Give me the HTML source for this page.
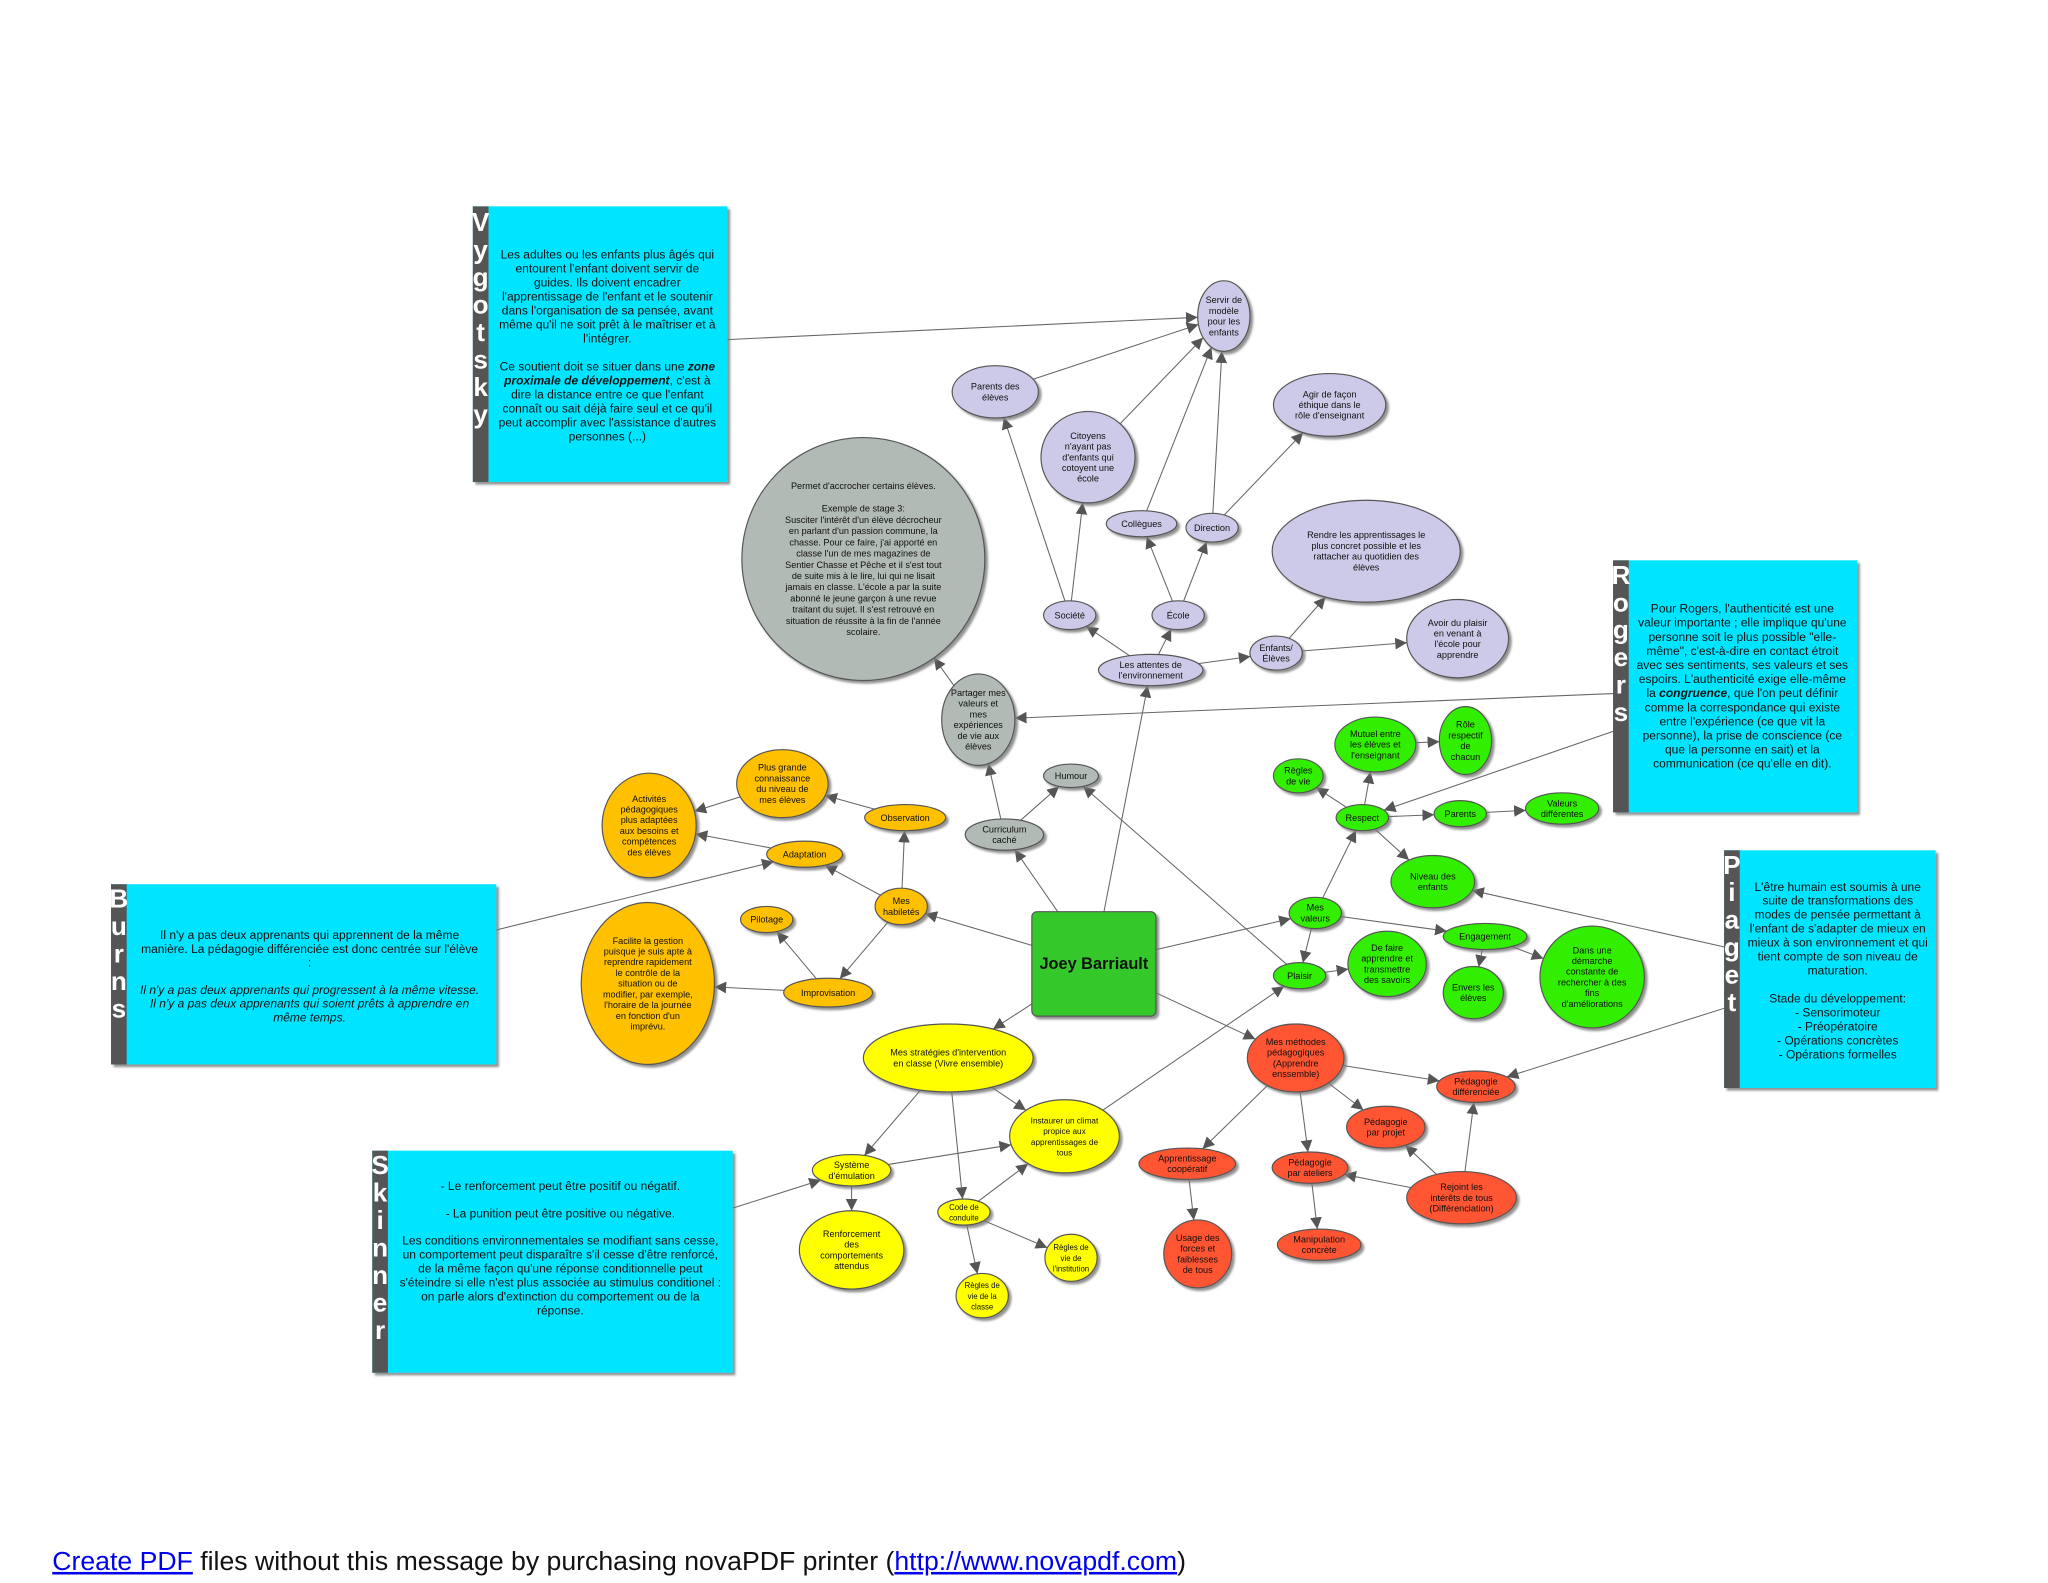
<!DOCTYPE html>
<html><head><meta charset="utf-8"><style>
html,body{margin:0;padding:0;background:#fff;}
svg{display:block;}
text{font-family:"Liberation Sans",sans-serif;fill:#111;}
.n text{font-size:7px;text-anchor:middle;}
.b text{font-size:9.2px;text-anchor:middle;}
.bar{font-size:20px;font-weight:bold;fill:#fff;text-anchor:middle;}
.e{stroke:#666;stroke-width:0.8;fill:none;}
.n ellipse{stroke:#555;stroke-width:0.9;}
</style></head><body>
<svg id="s" width="2048" height="1583" viewBox="0 0 1568 1212" xmlns="http://www.w3.org/2000/svg">
<defs>
<marker id="ar" viewBox="0 0 10 10" refX="10" refY="5" markerWidth="9" markerHeight="9" markerUnits="userSpaceOnUse" orient="auto"><path d="M0,0L10,5L0,10z" fill="#555"/></marker>
<filter id="sh" x="-20%" y="-20%" width="150%" height="150%"><feDropShadow dx="2" dy="2" stdDeviation="0.8" flood-color="#777" flood-opacity="0.8"/></filter>
</defs>
<g id="edges"></g>

<!-- Boxes -->
<g class="b" filter="url(#sh)">
<rect id="bV" x="362" y="158" width="195" height="211" fill="#00e5ff"/><rect x="362" y="158" width="12" height="211" fill="#555"/>
<rect id="bR" x="1235" y="429" width="187" height="193" fill="#00e5ff"/><rect x="1235" y="429" width="12" height="193" fill="#555"/>
<rect id="bP" x="1320" y="651" width="162" height="182" fill="#00e5ff"/><rect x="1320" y="651" width="12" height="182" fill="#555"/>
<rect id="bB" x="85" y="677" width="295" height="138" fill="#00e5ff"/><rect x="85" y="677" width="12" height="138" fill="#555"/>
<rect id="bS" x="285" y="881" width="276" height="170" fill="#00e5ff"/><rect x="285" y="881" width="12" height="170" fill="#555"/>
</g>
<g>
<text class="bar" x="368" y="177">V</text><text class="bar" x="368" y="198">y</text><text class="bar" x="368" y="219">g</text><text class="bar" x="368" y="240">o</text><text class="bar" x="368" y="261">t</text><text class="bar" x="368" y="282">s</text><text class="bar" x="368" y="303">k</text><text class="bar" x="368" y="324">y</text>
<text class="bar" x="1241" y="447">R</text><text class="bar" x="1241" y="468">o</text><text class="bar" x="1241" y="489">g</text><text class="bar" x="1241" y="510">e</text><text class="bar" x="1241" y="531">r</text><text class="bar" x="1241" y="552">s</text>
<text class="bar" x="1326" y="669">P</text><text class="bar" x="1326" y="690">i</text><text class="bar" x="1326" y="711">a</text><text class="bar" x="1326" y="732">g</text><text class="bar" x="1326" y="753">e</text><text class="bar" x="1326" y="774">t</text>
<text class="bar" x="91" y="695">B</text><text class="bar" x="91" y="716">u</text><text class="bar" x="91" y="737">r</text><text class="bar" x="91" y="758">n</text><text class="bar" x="91" y="779">s</text>
<text class="bar" x="291" y="899">S</text><text class="bar" x="291" y="920">k</text><text class="bar" x="291" y="941">i</text><text class="bar" x="291" y="962">n</text><text class="bar" x="291" y="983">n</text><text class="bar" x="291" y="1004">e</text><text class="bar" x="291" y="1025">r</text>
</g>
<g class="b">
<text x="465" y="198">Les adultes ou les enfants plus âgés qui</text>
<text x="465" y="208.7">entourent l'enfant doivent servir de</text>
<text x="465" y="219.4">guides. Ils doivent encadrer</text>
<text x="465" y="230.1">l'apprentissage de l'enfant et le soutenir</text>
<text x="465" y="240.8">dans l'organisation de sa pensée, avant</text>
<text x="465" y="251.5">même qu'il ne soit prêt à le maîtriser et à</text>
<text x="465" y="262.2">l'intégrer.</text>
<text x="465" y="283.6">Ce soutient doit se situer dans une <tspan font-weight="bold" font-style="italic">zone</tspan></text>
<text x="465" y="294.3"><tspan font-weight="bold" font-style="italic">proximale de développement</tspan>, c'est à</text>
<text x="465" y="305">dire la distance entre ce que l'enfant</text>
<text x="465" y="315.7">connaît ou sait déjà faire seul et ce qu'il</text>
<text x="465" y="326.4">peut accomplir avec l'assistance d'autres</text>
<text x="465" y="337.1">personnes (...)</text>

<text x="1334" y="469">Pour Rogers, l'authenticité est une</text>
<text x="1334" y="479.8">valeur importante ; elle implique qu'une</text>
<text x="1334" y="490.6">personne soit le plus possible "elle-</text>
<text x="1334" y="501.4">même", c'est-à-dire en contact étroit</text>
<text x="1334" y="512.2">avec ses sentiments, ses valeurs et ses</text>
<text x="1334" y="523">espoirs. L'authenticité exige elle-même</text>
<text x="1334" y="533.8">la <tspan font-weight="bold" font-style="italic">congruence</tspan>, que l'on peut définir</text>
<text x="1334" y="544.6">comme la correspondance qui existe</text>
<text x="1334" y="555.4">entre l'expérience (ce que vit la</text>
<text x="1334" y="566.2">personne), la prise de conscience (ce</text>
<text x="1334" y="577">que la personne en sait) et la</text>
<text x="1334" y="587.8">communication (ce qu'elle en dit).</text>

<text x="1407" y="682">L'être humain est soumis à une</text>
<text x="1407" y="692.7">suite de transformations des</text>
<text x="1407" y="703.4">modes de pensée permettant à</text>
<text x="1407" y="714.1">l'enfant de s'adapter de mieux en</text>
<text x="1407" y="724.8">mieux à son environnement et qui</text>
<text x="1407" y="735.5">tient compte de son niveau de</text>
<text x="1407" y="746.2">maturation.</text>
<text x="1407" y="767.6">Stade du développement:</text>
<text x="1407" y="778.3">- Sensorimoteur</text>
<text x="1407" y="789">- Préopératoire</text>
<text x="1407" y="799.7">- Opérations concrètes</text>
<text x="1407" y="810.4">- Opérations formelles</text>

<text x="237" y="719">Il n'y a pas deux apprenants qui apprennent de la même</text>
<text x="237" y="729.5">manière. La pédagogie différenciée est donc centrée sur l'élève</text>
<text x="237" y="740">:</text>
<text x="237" y="761" font-style="italic">Il n'y a pas deux apprenants qui progressent à la même vitesse.</text>
<text x="237" y="771.5" font-style="italic">Il n'y a pas deux apprenants qui soient prêts à apprendre en</text>
<text x="237" y="782" font-style="italic">même temps.</text>

<text x="429" y="911">- Le renforcement peut être positif ou négatif.</text>
<text x="429" y="932">- La punition peut être positive ou négative.</text>
<text x="429" y="953">Les conditions environnementales se modifiant sans cesse,</text>
<text x="429" y="963.7">un comportement peut disparaître s'il cesse d'être renforcé,</text>
<text x="429" y="974.4">de la même façon qu'une réponse conditionnelle peut</text>
<text x="429" y="985.1">s'éteindre si elle n'est plus associée au stimulus conditionel :</text>
<text x="429" y="995.8">on parle alors d'extinction du comportement ou de la</text>
<text x="429" y="1006.5">réponse.</text>
</g>

<!-- Nodes -->
<g id="nodes" filter="url(#sh)">
<g class="n" id="servir"><ellipse cx="937" cy="242" rx="20" ry="27" fill="#cdcae9"/><text x="937" y="242">Servir de|modèle|pour les|enfants</text></g>
<g class="n" id="parents"><ellipse cx="762" cy="300" rx="33" ry="20" fill="#cdcae9"/><text x="762" y="300">Parents des|élèves</text></g>
<g class="n" id="citoyens"><ellipse cx="833" cy="350" rx="36" ry="35" fill="#cdcae9"/><text x="833" y="350">Citoyens|n'ayant pas|d'enfants qui|cotoyent une|école</text></g>
<g class="n" id="agir"><ellipse cx="1018" cy="310" rx="43" ry="24" fill="#cdcae9"/><text x="1018" y="310">Agir de façon|éthique dans le|rôle d'enseignant</text></g>
<g class="n" id="collegues"><ellipse cx="874" cy="401" rx="27" ry="10" fill="#cdcae9"/><text x="874" y="401">Collègues</text></g>
<g class="n" id="direction"><ellipse cx="928" cy="404" rx="20" ry="11" fill="#cdcae9"/><text x="928" y="404">Direction</text></g>
<g class="n" id="rendre"><ellipse cx="1046" cy="422" rx="72" ry="39" fill="#cdcae9"/><text x="1046" y="422">Rendre les apprentissages le|plus concret possible et les|rattacher au quotidien des|élèves</text></g>
<g class="n" id="societe"><ellipse cx="819" cy="471" rx="20" ry="11" fill="#cdcae9"/><text x="819" y="471">Société</text></g>
<g class="n" id="ecole"><ellipse cx="902" cy="471" rx="20" ry="11" fill="#cdcae9"/><text x="902" y="471">École</text></g>
<g class="n" id="attentes"><ellipse cx="881" cy="513" rx="40" ry="12" fill="#cdcae9"/><text x="881" y="513">Les attentes de|l'environnement</text></g>
<g class="n" id="enfants"><ellipse cx="977" cy="500" rx="20" ry="13" fill="#cdcae9"/><text x="977" y="500">Enfants/|Élèves</text></g>
<g class="n" id="avoir"><ellipse cx="1116" cy="489" rx="39" ry="30" fill="#cdcae9"/><text x="1116" y="489">Avoir du plaisir|en venant à|l'école pour|apprendre</text></g>

<g class="n" id="big"><ellipse cx="661" cy="428" rx="93" ry="93" fill="#b2bab5"/><text x="661" y="428" data-lh="8.6">Permet d'accrocher certains élèves.| |Exemple de stage 3:|Susciter l'intérêt d'un élève décrocheur|en parlant d'un passion commune, la|chasse. Pour ce faire, j'ai apporté en|classe l'un de mes magazines de|Sentier Chasse et Pêche et il s'est tout|de suite mis à le lire, lui qui ne lisait|jamais en classe. L'école a par la suite|abonné le jeune garçon à une revue|traitant du sujet. Il s'est retrouvé en|situation de réussite à la fin de l'année|scolaire.</text></g>
<g class="n" id="partager"><ellipse cx="749" cy="551" rx="28" ry="35" fill="#b2bab5"/><text x="749" y="551">Partager mes|valeurs et|mes|expériences|de vie aux|élèves</text></g>
<g class="n" id="humour"><ellipse cx="820" cy="594" rx="21" ry="9" fill="#b2bab5"/><text x="820" y="594">Humour</text></g>
<g class="n" id="curri"><ellipse cx="769" cy="639" rx="30" ry="12" fill="#b2bab5"/><text x="769" y="639">Curriculum|caché</text></g>

<g class="n" id="plusg"><ellipse cx="599" cy="600" rx="35" ry="26" fill="#ffc000"/><text x="599" y="600">Plus grande|connaissance|du niveau de|mes élèves</text></g>
<g class="n" id="activ"><ellipse cx="497" cy="632" rx="36" ry="40" fill="#ffc000"/><text x="497" y="632">Activités|pédagogiques|plus adaptées|aux besoins et|compétences|des élèves</text></g>
<g class="n" id="obs"><ellipse cx="693" cy="626" rx="31" ry="10" fill="#ffc000"/><text x="693" y="626">Observation</text></g>
<g class="n" id="adapt"><ellipse cx="616" cy="654" rx="29" ry="10" fill="#ffc000"/><text x="616" y="654">Adaptation</text></g>
<g class="n" id="habil"><ellipse cx="690" cy="694" rx="20" ry="14" fill="#ffc000"/><text x="690" y="694">Mes|habiletés</text></g>
<g class="n" id="pilot"><ellipse cx="587" cy="704" rx="20" ry="10" fill="#ffc000"/><text x="587" y="704">Pilotage</text></g>
<g class="n" id="facil"><ellipse cx="496" cy="753" rx="51" ry="62" fill="#ffc000"/><text x="496" y="753">Facilite la gestion|puisque je suis apte à|reprendre rapidement|le contrôle de la|situation ou de|modifier, par exemple,|l'horaire de la journée|en fonction d'un|imprévu.</text></g>
<g class="n" id="impro"><ellipse cx="634" cy="760" rx="34" ry="11" fill="#ffc000"/><text x="634" y="760">Improvisation</text></g>

<g class="n" id="strat"><ellipse cx="726" cy="810" rx="65" ry="26" fill="#ffff00"/><text x="726" y="810">Mes stratégies d'intervention|en classe (Vivre ensemble)</text></g>
<g class="n" id="instaurer"><ellipse cx="815" cy="870" rx="42" ry="28" fill="#ffff00"/><text x="815" y="870" style="font-size:6.3px">Instaurer un climat|propice aux|apprentissages de|tous</text></g>
<g class="n" id="systeme"><ellipse cx="652" cy="896" rx="30" ry="12" fill="#ffff00"/><text x="652" y="896">Système|d'émulation</text></g>
<g class="n" id="code"><ellipse cx="738" cy="928" rx="20" ry="10" fill="#ffff00"/><text x="738" y="928" style="font-size:6px">Code de|conduite</text></g>
<g class="n" id="renf"><ellipse cx="652" cy="957" rx="40" ry="30" fill="#ffff00"/><text x="652" y="957">Renforcement|des|comportements|attendus</text></g>
<g class="n" id="rinst"><ellipse cx="820" cy="963" rx="20" ry="18" fill="#ffff00"/><text x="820" y="963" style="font-size:6px">Règles de|vie de|l'institution</text></g>
<g class="n" id="rclasse"><ellipse cx="752" cy="992" rx="20" ry="17" fill="#ffff00"/><text x="752" y="992" style="font-size:6px">Règles de|vie de la|classe</text></g>

<g class="n" id="rvie"><ellipse cx="994" cy="594" rx="19" ry="13" fill="#33ee00"/><text x="994" y="594">Règles|de vie</text></g>
<g class="n" id="mutuel"><ellipse cx="1053" cy="570" rx="31" ry="21" fill="#33ee00"/><text x="1053" y="570">Mutuel entre|les élèves et|l'enseignant</text></g>
<g class="n" id="role"><ellipse cx="1122" cy="567" rx="20" ry="26" fill="#33ee00"/><text x="1122" y="567">Rôle|respectif|de|chacun</text></g>
<g class="n" id="respect"><ellipse cx="1043" cy="626" rx="20" ry="10" fill="#33ee00"/><text x="1043" y="626">Respect</text></g>
<g class="n" id="gparents"><ellipse cx="1118" cy="623" rx="20" ry="10" fill="#33ee00"/><text x="1118" y="623">Parents</text></g>
<g class="n" id="valdiff"><ellipse cx="1196" cy="619" rx="28" ry="12" fill="#33ee00"/><text x="1196" y="619">Valeurs|différentes</text></g>
<g class="n" id="niveau"><ellipse cx="1097" cy="675" rx="32" ry="20" fill="#33ee00"/><text x="1097" y="675">Niveau des|enfants</text></g>
<g class="n" id="valeurs"><ellipse cx="1007" cy="699" rx="20" ry="12" fill="#33ee00"/><text x="1007" y="699">Mes|valeurs</text></g>
<g class="n" id="engag"><ellipse cx="1137" cy="717" rx="32" ry="10" fill="#33ee00"/><text x="1137" y="717">Engagement</text></g>
<g class="n" id="plaisir"><ellipse cx="995" cy="747" rx="20" ry="10" fill="#33ee00"/><text x="995" y="747">Plaisir</text></g>
<g class="n" id="defaire"><ellipse cx="1062" cy="738" rx="30" ry="25" fill="#33ee00"/><text x="1062" y="738">De faire|apprendre et|transmettre|des savoirs</text></g>
<g class="n" id="envers"><ellipse cx="1128" cy="760" rx="23" ry="20" fill="#33ee00"/><text x="1128" y="760">Envers les|élèves</text></g>
<g class="n" id="dans"><ellipse cx="1219" cy="748" rx="40" ry="39" fill="#33ee00"/><text x="1219" y="748">Dans une|démarche|constante de|rechercher à des|fins|d'améliorations</text></g>

<g class="n" id="methodes"><ellipse cx="992" cy="810" rx="37" ry="26" fill="#ff5533"/><text x="992" y="810">Mes méthodes|pédagogiques|(Apprendre|enssemble)</text></g>
<g class="n" id="pdiff"><ellipse cx="1130" cy="832" rx="30" ry="12" fill="#ff5533"/><text x="1130" y="832">Pédagogie|différenciée</text></g>
<g class="n" id="pproj"><ellipse cx="1061" cy="863" rx="30" ry="16" fill="#ff5533"/><text x="1061" y="863">Pédagogie|par projet</text></g>
<g class="n" id="coop"><ellipse cx="909" cy="891" rx="37" ry="12" fill="#ff5533"/><text x="909" y="891">Apprentissage|coopératif</text></g>
<g class="n" id="ateliers"><ellipse cx="1003" cy="894" rx="29" ry="12" fill="#ff5533"/><text x="1003" y="894">Pédagogie|par ateliers</text></g>
<g class="n" id="rejoint"><ellipse cx="1119" cy="917" rx="42" ry="20" fill="#ff5533"/><text x="1119" y="917">Rejoint les|intérêts de tous|(Différenciation)</text></g>
<g class="n" id="usage"><ellipse cx="917" cy="960" rx="26" ry="26" fill="#ff5533"/><text x="917" y="960">Usage des|forces et|faiblesses|de tous</text></g>
<g class="n" id="manip"><ellipse cx="1010" cy="953" rx="32" ry="12" fill="#ff5533"/><text x="1010" y="953">Manipulation|concrète</text></g>

<rect id="joey" x="790" y="698" width="95" height="80" rx="4" fill="#36c82b" stroke="#555" stroke-width="0.9"/>
</g>
<text x="837.5" y="742" style="font-size:12.5px;font-weight:bold;text-anchor:middle">Joey Barriault</text>

<text x="40" y="1202" style="font-size:19.5px" textLength="868" lengthAdjust="spacingAndGlyphs"><tspan fill="#0000ee" text-decoration="underline">Create PDF</tspan> files without this message by purchasing novaPDF printer (<tspan fill="#0000ee" text-decoration="underline">http://www.novapdf.com</tspan>)</text>
</svg>
<script>
(function(){
var NS="http://www.w3.org/2000/svg";
document.querySelectorAll('.n text').forEach(function(t){
  var s=t.textContent; if(s.indexOf('|')<0){t.setAttribute('dy','2.4');return;}
  var lines=s.split('|'), x=t.getAttribute('x'), y=+t.getAttribute('y');
  var lh=+(t.getAttribute('data-lh')||8.2);
  t.textContent='';
  var y0=y-(lines.length-1)*lh/2+2.4;
  lines.forEach(function(l,i){var ts=document.createElementNS(NS,'tspan');ts.setAttribute('x',x);ts.setAttribute('y',y0+i*lh);ts.textContent=l;t.appendChild(ts);});
});
function geo(id){
  var g=document.getElementById(id);
  if(g.tagName==='rect'){var x=+g.getAttribute('x'),y=+g.getAttribute('y'),w=+g.getAttribute('width'),h=+g.getAttribute('height');return {t:'r',cx:x+w/2,cy:y+h/2,w:w/2,h:h/2};}
  var e=g.querySelector('ellipse');return {t:'e',cx:+e.getAttribute('cx'),cy:+e.getAttribute('cy'),rx:+e.getAttribute('rx'),ry:+e.getAttribute('ry')};
}
function clip(a,tx,ty){
  var dx=tx-a.cx,dy=ty-a.cy,k;
  if(a.t==='e'){k=1/Math.sqrt((dx/a.rx)*(dx/a.rx)+(dy/a.ry)*(dy/a.ry));}
  else{k=Math.min(a.w/Math.abs(dx||1e-6),a.h/Math.abs(dy||1e-6));}
  return [a.cx+dx*k,a.cy+dy*k];
}
var E=[
[[557,260],'servir'],['parents','servir'],['citoyens','servir'],['collegues','servir'],['direction','servir'],['direction','agir'],
['societe','parents'],['societe','citoyens'],['ecole','collegues'],['ecole','direction'],
['attentes','societe'],['attentes','ecole'],['attentes','enfants'],['enfants','rendre'],['enfants','avoir'],
[[1235,531],'partager'],['partager','big'],['curri','partager'],['curri','humour'],
['joey','curri'],['joey','attentes'],['joey','habil'],['joey','valeurs'],['joey','strat'],['joey','methodes'],
['plaisir','humour'],['habil','obs'],['habil','adapt'],['habil','impro'],['obs','plusg'],['plusg','activ'],['adapt','activ'],
[[380,712],'adapt'],['impro','pilot'],['impro','facil'],
['valeurs','respect'],['valeurs','plaisir'],['valeurs','engag'],['respect','rvie'],['respect','mutuel'],['respect','gparents'],['respect','niveau'],
['mutuel','role'],['gparents','valdiff'],[[1235,560],'respect'],[[1320,725],'niveau'],[[1320,772],'pdiff'],
['plaisir','defaire'],['engag','envers'],['engag','dans'],
['strat','systeme'],['strat','code'],['strat','instaurer'],['instaurer','plaisir'],['systeme','instaurer'],['systeme','renf'],
['code','instaurer'],['code','rinst'],['code','rclasse'],[[561,925],'systeme'],
['methodes','pdiff'],['methodes','pproj'],['methodes','coop'],['methodes','ateliers'],['coop','usage'],['ateliers','manip'],
['rejoint','pdiff'],['rejoint','pproj'],['rejoint','ateliers']
];
var eg=document.getElementById('edges');
E.forEach(function(p){
  var b=geo(p[1]),s;
  if(Array.isArray(p[0])){s=p[0];}else{var a=geo(p[0]);s=clip(a,b.cx,b.cy);}
  var t=clip(b,s[0],s[1]);
  var l=document.createElementNS(NS,'line');
  l.setAttribute('x1',s[0]);l.setAttribute('y1',s[1]);l.setAttribute('x2',t[0]);l.setAttribute('y2',t[1]);
  l.setAttribute('class','e');l.setAttribute('marker-end','url(#ar)');eg.appendChild(l);
});
})();
</script>
</body></html>
